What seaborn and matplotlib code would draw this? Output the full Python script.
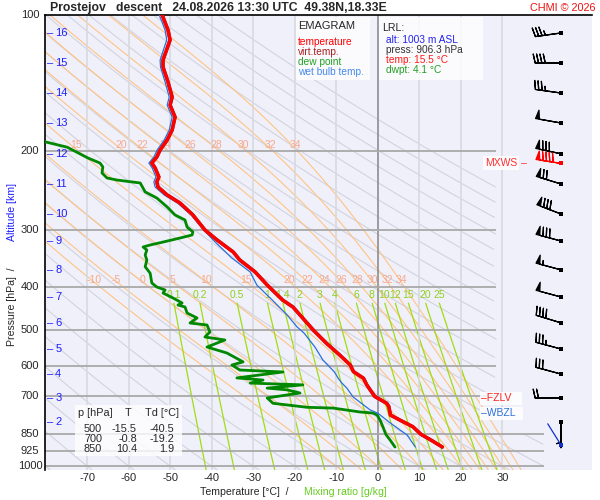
import numpy as np
import pandas as pd
import matplotlib
matplotlib.use("Agg")
import matplotlib.pyplot as plt
import seaborn as sns
from matplotlib.patches import Rectangle
from matplotlib.ticker import NullLocator

# sounding data (p in hPa, T in deg C)
temp_p = [100, 108, 113.6, 125.8, 130.4, 140.7, 152, 158.3, 168.3, 179.8, 189.2, 199.1, 206.4, 212.8,
          218.3, 228.5, 234.4, 240.5, 250.5, 261, 277.4, 299.5, 315, 335, 349, 371, 396.5, 428, 443.6,
          462, 500, 534, 567, 596, 617, 638, 660, 700, 725, 737, 770, 790, 817, 850, 875, 906.3]
temp_t = [-52.0, -50.6, -50.1, -51.8, -51.8, -50.6, -49.6, -50.1, -48.9, -49.6, -50.8, -52.5, -53.3, -54.5,
          -53.7, -52.8, -53.3, -53.0, -50.8, -47.7, -44.6, -41.7, -38.8, -34.9, -33.3, -29.6, -26.7, -23.0, -20.5,
          -18.8, -15.5, -12.4, -9.2, -6.7, -5.9, -3.5, -2.7, -0.8, 2.1, 2.6, 3.0, 5.3, 8.4, 10.4, 12.8, 15.5]

wb_p = [100, 108, 113.6, 125.8, 130.4, 140.7, 152, 158.3, 168.3, 179.8, 189.2, 199.1, 206.4, 212.8,
        218.3, 228.5, 234.4, 240.5, 250.5, 261, 277.4, 299.5, 320, 345, 371, 396.5, 428, 462, 491, 507,
        544, 581, 618, 640, 654, 671, 702, 750, 763, 801, 852, 906.3]
wb_t = [-52.7, -51.3, -50.9, -52.5, -52.4, -51.3, -50.3, -50.8, -49.6, -50.3, -51.5, -53.2, -54.0, -55.2,
        -54.4, -53.5, -54.0, -53.7, -51.5, -48.3, -45.0, -42.0, -39.0, -35.3, -30.8, -29.2, -25.5, -21.9, -19.5, -17.8,
        -15.2, -13.3, -10.5, -9.5, -8.7, -7.5, -6.0, -1.9, 0.0, 2.9, 7.0, 9.0]

dew_p = [186, 191, 196.3, 207.4, 212.8, 217.1, 223.9, 229.7, 232.1, 235.6, 246.6, 254.4, 266.3, 277.4,
         284.6, 295, 302.5, 307.2, 312, 318.5, 323.3, 326.6, 331.7, 340.2, 349, 361.2, 373.4, 392.5, 400.6,
         406.8, 413.1, 423.7, 434.6, 439.1, 443.6, 457.4, 469.2, 481.4, 486.3, 503.9, 517, 524.9, 544.1, 561,
         587, 596.4, 611.8, 618, 637, 644, 654, 660, 671, 677, 688, 705.5, 725, 740, 743, 758, 762, 770,
         790, 818, 850, 874, 906.3]
dew_t = [-83.0, -80.2, -74.9, -69.9, -67.0, -66.3, -66.5, -65.3, -62.9, -57.3, -56.1, -53.3, -50.8, -48.9,
         -46.5, -46.0, -44.6, -44.8, -47.7, -51.8, -54.9, -56.6, -55.7, -56.1, -55.7, -56.1, -54.9, -54.5, -53.3,
         -51.3, -51.8, -49.4, -47.2, -48.2, -46.5, -46.0, -43.6, -45.3, -41.2, -40.5, -41.7, -36.9, -41.2, -36.4,
         -32.5, -35.2, -33.3, -22.9, -34.0, -27.7, -30.8, -18.1, -26.7, -21.9, -18.8, -26.7, -25.3, -17.1, -10.8,
         -4.3, -1.2, -0.2, 0.5, 1.2, 1.9, 2.9, 4.1]

table_p = [500, 700, 850]
table_t = [-15.5, -0.8, 10.4]
table_td = [-40.5, -19.2, 1.9]

lrl_alt, lrl_press, lrl_temp, lrl_dwpt = 1003, 906.3, 15.5, 4.1
fzlv_p = 706
wbzl_p = 763

alt_km = [2, 3, 4, 5, 6, 7, 8, 9, 10, 11, 12, 13, 14, 15, 16]
alt_p = [797, 705.8, 624.5, 549.6, 481, 421.5, 367, 316.8, 276, 236.8, 203, 173.5, 148.9, 127.7, 109.6]

# winds (knots), direction in degrees
barb_p = [109.6, 127.7, 148.9, 173.5, 203, 236.8, 276, 316.8, 367, 421.5, 481, 549.6, 624.5, 705.8, 797]
barb_dir = [262, 270, 278, 280, 282, 287, 291, 285, 285, 285, 287, 285, 285, 270, 180]
barb_spd = [35, 40, 35, 50, 80, 70, 80, 80, 55, 50, 40, 35, 30, 20, 5]
mxws_p, mxws_dir, mxws_spd = 212.8, 279, 90
sfc_p, sfc_dir = 897, 328

pressure_ticks = [100, 200, 300, 400, 500, 600, 700, 850, 925, 1000]
temp_ticks = [-70, -60, -50, -40, -30, -20, -10, 0, 10, 20, 30]
grid_short = [200, 300, 400, 500, 600, 700]
grid_long = [850, 925, 1000]
theta_dry = list(range(-80, 181, 10))
theta_w = [-10, -5, 0, 5, 10, 15, 20, 22, 24, 26, 28, 30, 32, 34]
theta_w_top = [15, 20, 22, 24, 26, 28, 30, 32, 34]
mix_ratios = [0.1, 0.2, 0.5, 1, 1.4, 2, 3, 4, 6, 8, 10, 12, 15, 20, 25]
mix_labels = ["0.1", "0.2", "0.5", "1", "1.4", "2", "3", "4", "6", "8", "10", "12", "15", "20", "25"]

sns.set_style("white")
plt.rcParams['font.family'] = ['Liberation Sans', 'DejaVu Sans']
plt.rcParams['axes.unicode_minus'] = False

W, H = 600, 500
def fx(x):
    return x / W
def fy(y):
    return 1 - y / H

fig = plt.figure(figsize=(6, 5), dpi=100)
ax = fig.add_axes([fx(45), fy(470), 547 / W, 455 / H])
ax.set_facecolor('#f0f0fb')
ax.set_yscale('log')
ax.set_xlim(-80.24, 51.57)
ax.set_ylim(1019, 100)

# thermodynamic background lines
p_fine = np.exp(np.linspace(np.log(100), np.log(1019), 300))


def es_hpa(tc):
    return 6.112 * np.exp(17.67 * tc / (tc + 243.5))


def moist_rate(tk, p):
    es = es_hpa(tk - 273.15)
    rs = 0.622 * es / (p - es)
    return (287.04 * tk + 2.501e6 * rs) / (1005.7 + 2.501e6 ** 2 * rs * 0.622 / (287.04 * tk ** 2))


def rk4(t, a, b):
    h = b - a
    k1 = moist_rate(t, np.exp(a))
    k2 = moist_rate(t + h * k1 / 2, np.exp(a + h / 2))
    k3 = moist_rate(t + h * k2 / 2, np.exp(a + h / 2))
    k4 = moist_rate(t + h * k3, np.exp(b))
    return t + h * (k1 + 2 * k2 + 2 * k3 + k4) / 6


def moist_profile(tw):
    t = tw + 273.15
    lnp = np.linspace(np.log(1000), np.log(1019), 6)
    for a, b in zip(lnp[:-1], lnp[1:]):
        t = rk4(t, a, b)
    grid = np.log(p_fine)[::-1]
    out = [t]
    for a, b in zip(grid[:-1], grid[1:]):
        t = rk4(t, a, b)
        out.append(t)
    return np.array(out)[::-1] - 273.15


def mixing_t(w, p):
    e = w * np.asarray(p) / (622 + w)
    a = np.log(e / 6.112)
    return 243.5 * a / (17.67 - a)


def segments(t, p, ok, name):
    seg = np.cumsum(np.r_[1, np.diff(ok.astype(int)) != 0])
    parts = []
    for s in np.unique(seg[ok]):
        m = ok & (seg == s)
        parts.append(pd.DataFrame({'T': t[m], 'p': p[m], 'line': f'{name}_{s}'}))
    return parts


dry_rows = []
for th in theta_dry:
    t = (th + 273.15) * (p_fine / 1000) ** 0.286 - 273.15
    ok = (t <= 40) & ((p_fine >= 845) | (t <= 28.5)) & (t >= -85)
    dry_rows += segments(t, p_fine, ok, f'd{th}')
dry_df = pd.concat(dry_rows)

moist_lines = {tw: moist_profile(tw) for tw in theta_w}
moist_df = pd.concat([pd.DataFrame({'T': moist_lines[tw], 'p': p_fine, 'line': f'm{tw}'})
                      for tw in theta_w])

p_mix = np.exp(np.linspace(np.log(435), np.log(1019), 60))
mix_df = pd.concat([pd.DataFrame({'T': mixing_t(w, p_mix), 'p': p_mix, 'line': f'w{w}'})
                    for w in mix_ratios])

sns.lineplot(data=dry_df, x='T', y='p', units='line', estimator=None, sort=False,
             color='#d3d3dd', lw=0.8, ax=ax, zorder=1)
sns.lineplot(data=moist_df, x='T', y='p', units='line', estimator=None, sort=False,
             color='#ffc483', lw=0.8, ax=ax, zorder=1.2)
sns.lineplot(data=mix_df, x='T', y='p', units='line', estimator=None, sort=False,
             color='#a2dc10', lw=0.9, ax=ax, zorder=1.3)

# grid
ax.vlines([t for t in temp_ticks if t != 0], 100, 1019, colors='#d9d9df', lw=1.2, zorder=1.5)
ax.vlines([0], 100, 1019, colors='#8e8e8e', lw=1.2, zorder=1.6)
ax.hlines(grid_short, -80.24, 28.5, colors='#a9a9a9', lw=1.3, zorder=1.7)
ax.hlines(grid_long, -80.24, 40, colors='#a9a9a9', lw=1.3, zorder=1.7)

# labels on the background lines
lnp_sorted = np.log(p_fine)
for tw in theta_w:
    x400 = np.interp(np.log(390), lnp_sorted, moist_lines[tw])
    ax.text(x400, 386, str(tw), color='#f7a98b', fontsize=7.5, ha='center', va='center', zorder=3)
for tw in theta_w_top:
    x200 = np.interp(np.log(198), lnp_sorted, moist_lines[tw])
    ax.text(x200, 194, str(tw), color='#f7a98b', fontsize=7.5, ha='center', va='center', zorder=3)
for w, lab in zip(mix_ratios, mix_labels):
    ax.text(mixing_t(w, 432), 417, lab, color='#8fd020', fontsize=7.5, ha='center', va='center', zorder=3)

# sounding profiles
sns.lineplot(x=dew_t, y=dew_p, sort=False, estimator=None, color='#008800', lw=2.0, ax=ax, zorder=5)
sns.lineplot(x=wb_t, y=wb_p, sort=False, estimator=None, color='#2a6fdb', lw=0.9, ax=ax, zorder=5.5)
sns.lineplot(x=temp_t, y=temp_p, sort=False, estimator=None, color='#aa2020', lw=2.6, ax=ax, zorder=5.8)
sns.lineplot(x=temp_t, y=temp_p, sort=False, estimator=None, color='#ff0000', lw=2.3, ax=ax, zorder=6)

# wind barbs on the right
bx = 44.1
rad = np.deg2rad(barb_dir)
u = -np.array(barb_spd) * np.sin(rad)
v = -np.array(barb_spd) * np.cos(rad)
barb_kw = dict(length=6.1, sizes=dict(spacing=0.13, height=0.34, width=0.15, emptybarb=0.0),
               linewidth=0.9, zorder=7)
ax.barbs([bx] * len(barb_p), barb_p, u, v, barbcolor='black', flagcolor='black', **barb_kw)
mr = np.deg2rad(mxws_dir)
ax.barbs([bx], [mxws_p], [-mxws_spd * np.sin(mr)], [-mxws_spd * np.cos(mr)],
         barbcolor='red', flagcolor='red', **barb_kw)
sns.scatterplot(x=[bx] * len(barb_p), y=barb_p, marker='s', s=7, color='black', edgecolor='none',
                ax=ax, zorder=8)
sns.scatterplot(x=[bx], y=[mxws_p], marker='s', s=7, color='red', edgecolor='none', ax=ax, zorder=8)
sr = np.deg2rad(sfc_dir)
ax.annotate('', xy=(bx, sfc_p), xytext=(18 * np.sin(sr), 18 * np.cos(sr)), textcoords='offset points',
            arrowprops=dict(arrowstyle='-', color='#1030d0', lw=0.9, shrinkA=0, shrinkB=0), zorder=7)
sns.scatterplot(x=[bx], y=[sfc_p], marker='s', s=7, color='#1030d0', edgecolor='none', ax=ax, zorder=8)

# level markers
ax.text(33.5, mxws_p, 'MXWS', color='#ff3030', fontsize=7.5, ha='right', va='center', zorder=8,
        bbox=dict(fc='white', ec='none', alpha=0.85, boxstyle='square,pad=0.15'))
ax.text(35.2, mxws_p, '\u2013', color='#ff3030', fontsize=7.5, ha='center', va='center', zorder=8)
ax.text(24.9, fzlv_p, '\u2013FZLV   ', color='#ff2020', fontsize=7.5, ha='left', va='center', zorder=8,
        bbox=dict(fc='white', ec='none', alpha=0.85, boxstyle='square,pad=0.15'))
ax.text(24.9, wbzl_p, '\u2013WBZL  ', color='#2a6fdb', fontsize=7.5, ha='left', va='center', zorder=8,
        bbox=dict(fc='white', ec='none', alpha=0.85, boxstyle='square,pad=0.15'))

# altitude marks
for km, p in zip(alt_km, alt_p):
    ax.text(-79.8, p, '\u2013', color='#1f1fff', fontsize=8, ha='left', va='center', zorder=8)
    ax.text(-77.8, p, str(km), color='#1f1fff', fontsize=8, ha='left', va='center', zorder=8)

# axes decoration
ytr = ax.get_yaxis_transform()
for p in pressure_ticks:
    ax.text(-0.0274, p, str(p), transform=ytr, fontsize=8, ha='center', va='center', clip_on=False)
ax.yaxis.set_minor_locator(NullLocator())
ax.set_yticks([])
ax.set_xticks(temp_ticks)
ax.set_xticklabels([str(t) for t in temp_ticks])
ax.tick_params(axis='x', length=0, pad=2.5, labelsize=8)
ax.set_xlabel('')
ax.set_ylabel('')
for side in ['right', 'bottom']:
    ax.spines[side].set_visible(False)
for side in ['top', 'left']:
    ax.spines[side].set_color('black')
    ax.spines[side].set_linewidth(1.2)

# title and axis titles
fig.text(fx(50), fy(8), 'Prostejov   descent   24.08.2026 13:30 UTC  49.38N,18.33E',
         fontsize=8.8, fontweight='bold', ha='left', va='center')
fig.text(fx(596), fy(8), 'CHMI \u00a9 2026', color='#ee1111', fontsize=7.8, ha='right', va='center')
fig.text(fx(12), fy(307), 'Pressure [hPa]  /', rotation=90, fontsize=7.6, ha='center', va='center')
fig.text(fx(12), fy(212), 'Altitude [km]', rotation=90, fontsize=7.6, ha='center', va='center',
         color='#1f1fff')
fig.text(fx(244), fy(492), 'Temperature [\u00b0C]  /', fontsize=7.6, ha='center', va='center')
fig.text(fx(345), fy(492), 'Mixing ratio [g/kg]', fontsize=7.6, ha='center', va='center', color='#66cc22')

# legend box
fig.add_artist(Rectangle((fx(296), fy(80)), 74 / W, 63 / H, transform=fig.transFigure,
                         fc='white', ec='none', alpha=0.8))
fig.text(fx(298), fy(26), 'EMAGRAM', fontsize=8, ha='left', va='center')
for yy, lab, col in zip([42, 52, 62, 72], ['temperature', 'virt.temp.', 'dew point', 'wet bulb temp.'],
                        ['#ff0000', '#aa2020', '#22a022', '#4488ee']):
    fig.text(fx(298), fy(yy), lab, color=col, fontsize=7.3, ha='left', va='center')

# LRL box
fig.add_artist(Rectangle((fx(379), fy(80)), 104 / W, 63 / H, transform=fig.transFigure,
                         fc='white', ec='none', alpha=0.8))
fig.text(fx(382), fy(28), 'LRL:', fontsize=7.6, ha='left', va='center')
lrl_lines = [f'alt: {lrl_alt} m ASL', f'press: {lrl_press:.1f} hPa',
             f'temp: {lrl_temp:.1f} \u00b0C', f'dwpt: {lrl_dwpt:.1f} \u00b0C']
for yy, lab, col in zip([40, 50, 60, 70], lrl_lines, ['#2222ee', '#333333', '#ff1a1a', '#22a022']):
    fig.text(fx(386), fy(yy), lab, color=col, fontsize=7.3, ha='left', va='center')

# table box
fig.add_artist(Rectangle((fx(75), fy(456)), 107 / W, 51 / H, transform=fig.transFigure,
                         fc='white', ec='none', alpha=0.8))
fig.text(fx(78), fy(413), 'p [hPa]', fontsize=7.8, ha='left', va='center')
fig.text(fx(128), fy(413), 'T', fontsize=7.8, ha='center', va='center')
fig.text(fx(145), fy(413), 'Td [\u00b0C]', fontsize=7.8, ha='left', va='center')
for yy, p, t, td in zip([429, 439, 449], table_p, table_t, table_td):
    fig.text(fx(102), fy(yy), str(p), fontsize=7.8, ha='right', va='center')
    fig.text(fx(137), fy(yy), f'{t:.1f}', fontsize=7.8, ha='right', va='center')
    fig.text(fx(174), fy(yy), f'{td:.1f}', fontsize=7.8, ha='right', va='center')

fig.savefig('out.png', dpi=100)
